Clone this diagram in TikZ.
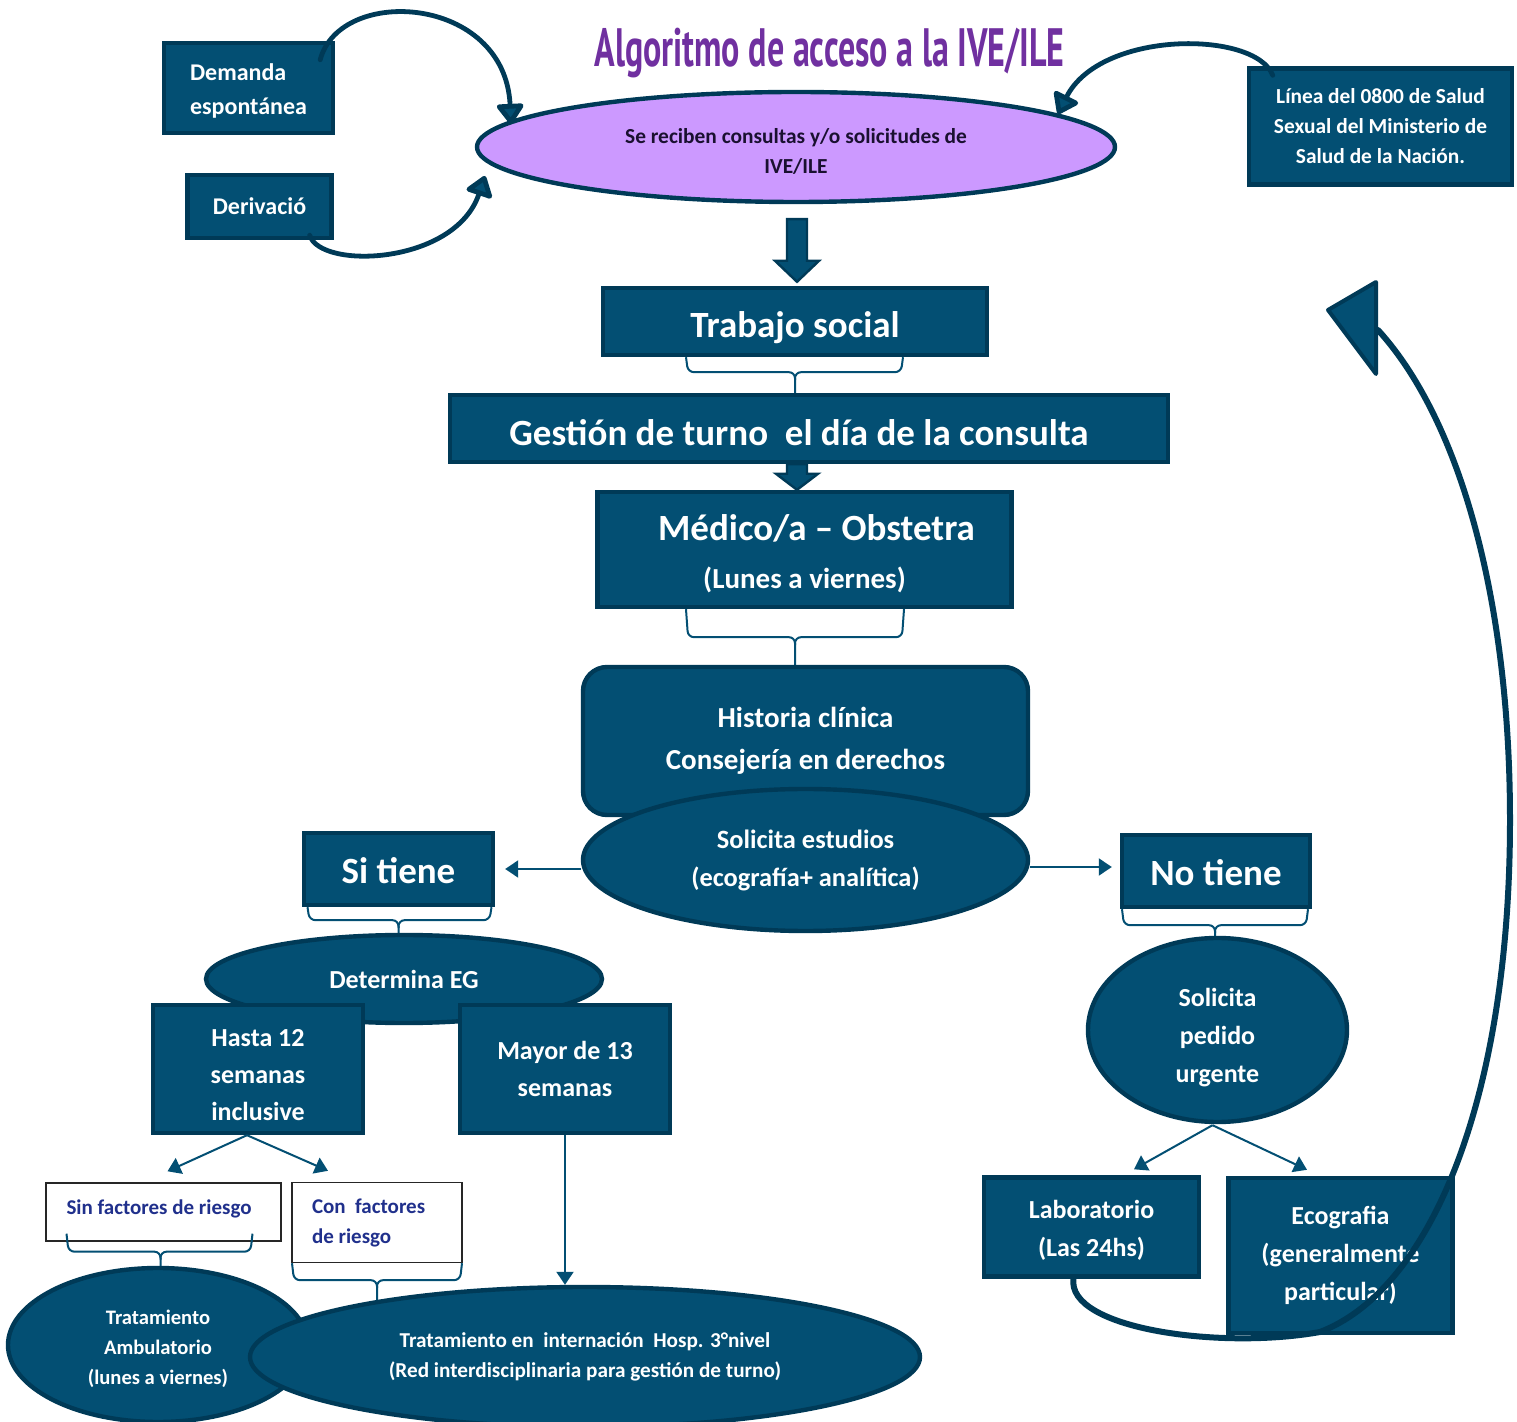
\documentclass[tikz,border=0pt]{standalone}
\usepackage{fontspec}
\usepackage{graphicx}
\setmainfont{Carlito}
\newfontfamily\titlefont[FakeStretch=0.63]{PT Sans}
\usetikzlibrary{shapes.geometric,arrows.meta,calc}
\definecolor{bblue}{RGB}{3,79,115}
\definecolor{bdark}{RGB}{0,58,87}
\definecolor{lilac}{HTML}{CC99FF}
\definecolor{ink}{RGB}{26,16,48}
\definecolor{ttlpurple}{HTML}{7030A0}
\definecolor{navytxt}{RGB}{32,48,140}
\pgfdeclarelayer{background}
\pgfsetlayers{background,main}
\newcommand\fs[2]{\fontsize{#1pt}{#2pt}\selectfont\bfseries}
\newcommand\lowr[2]{\raisebox{#1}[\height][\depth]{#2}}
% brace connector: #1 top node, #2 stem dx, #3 left dx, #4 right dx, #5 depth, #6 bottom node
\newcommand\bracelink[6]{%
  \coordinate (stm) at ($(#1.south)+(#2,0)$);
  \draw[brc] ($(stm)+(#3,0)$) -- ($(stm)+(#3+2,#5)$) -- ($(stm)+(0,#5)$) -- (stm |- #6.center);
  \draw[brc] ($(stm)+(#4,0)$) -- ($(stm)+(#4-2,#5)$) -- ($(stm)+(0,#5)$) -- ($(stm)+(0,#5+8)$);}
\begin{document}
\begin{tikzpicture}[x=0.5pt,y=-0.5pt,
  box/.style={rectangle,draw=bdark,fill=bblue,line width=2.2pt,text=white,align=center,inner sep=0pt},
  oval/.style={ellipse,draw=bdark,fill=bblue,line width=2.2pt,text=white,align=center,inner sep=0pt},
  wbox/.style={rectangle,draw=black!85,fill=white,line width=0.7pt,text=navytxt,align=flush left,inner sep=0pt},
  tx/.style={text=white,align=center,inner sep=0pt},
  brc/.style={draw=bblue,line width=1pt,rounded corners=3pt},
  arr/.style={draw=bblue,line width=1pt,-{Triangle[length=6.5pt,width=8.5pt]}},
  curv/.style={draw=bdark,line width=2.4pt,line cap=round,-{Triangle[length=11pt,width=15pt,fill=bblue,round]}},
  bigc/.style={draw=bdark,line width=3pt,line cap=round},
  blk/.style={draw=bdark,fill=bblue,line width=1.2pt,line join=miter},
]
\useasboundingbox (0,0) rectangle (1517,1422);

% title
\node[text=ttlpurple,font={\titlefont\bfseries\fontsize{27pt}{30pt}\selectfont},inner sep=0pt,anchor=base] (ttl) at (829.5,67) {Algoritmo de acceso a la IVE/ILE};

% top entry nodes
\node[box,minimum width=84.5pt,minimum height=45pt,
  label={[tx,align=left,font=\fs{12}{17},yshift=-1.5pt]center:Demanda\\espontánea}] (dem) at (248.5,88) {};
\node[box,font=\fs{12}{17},minimum width=72pt,minimum height=31.5pt] (der) at (259.5,206.5) {Derivació};
\node[ellipse,draw=bdark,fill=lilac,line width=2.2pt,inner sep=0pt,minimum width=319pt,minimum height=55pt,
  label={[tx,text=ink,font=\fs{10.7}{15},yshift=-2pt]center:Se reciben consultas y/o solicitudes de\\IVE/ILE}] (rec) at (796,147) {};
\node[box,font=\fs{10.7}{15},minimum width=131.5pt,minimum height=58pt] (lin) at (1380.5,126.5) {Línea del 0800 de Salud\\Sexual del Ministerio de\\Salud de la Nación.};

% main column
\node[box,font=\fs{18.5}{22},minimum width=192pt,minimum height=33.5pt] (ts) at (795,321.5) {\lowr{-3pt}{Trabajo social}};
\node[box,font=\fs{18.5}{22},minimum width=359pt,minimum height=33.5pt] (gest) at (809,428.5) {\lowr{-2pt}{Gestión de turno~ el día de la consulta}\rule{10pt}{0pt}};
\node[box,minimum width=207pt,minimum height=57.5pt,
  label={[tx,font=\fs{14.5}{24},yshift=-2pt]center:{\fs{18.5}{24}\rule{12pt}{0pt}Médico/a – Obstetra}\\(Lunes a viernes)}] (med) at (804.5,549.5) {};
\node[box,rounded corners=12pt,font=\fs{14.5}{21},minimum width=222.5pt,minimum height=74pt] (hist) at (805.5,741) {Historia clínica\\Consejería en derechos};
\node[oval,font=\fs{13.2}{19},minimum width=222.5pt,minimum height=71pt] (sol) at (805.5,860) {Solicita estudios\\(ecografía+ analítica)};

% left branch
\node[box,font=\fs{18.5}{22},minimum width=94.5pt,minimum height=36pt] (si) at (398.5,869) {\lowr{-1pt}{Si tiene}};
\node[oval,font=\fs{13}{18},minimum width=198pt,minimum height=44pt] (deg) at (404,979) {Determina EG};
\node[box,minimum width=105pt,minimum height=64pt,
  label={[tx,font=\fs{13}{18.5},yshift=-3pt]center:Hasta 12\\semanas\\inclusive}] (h12) at (258,1069) {};
\node[box,font=\fs{13}{18.5},minimum width=105pt,minimum height=64pt] (may) at (565,1069) {Mayor de 13\\semanas};
\node[wbox,font=\fs{10.5}{15},minimum width=117.5pt,minimum height=29pt,text width=97pt] (sinf) at (163.5,1212) {\lowr{1.5pt}{Sin factores de riesgo}};
\node[wbox,font=\fs{10.5}{15},minimum width=85pt,minimum height=40pt,text width=65pt] (conf) at (377,1222.5) {Con~ factores\\de riesgo};
\node[oval,minimum width=150pt,minimum height=77pt,
  label={[tx,font=\fs{10.3}{15},yshift=-2pt]center:Tratamiento\\Ambulatorio\\(lunes a viernes)}] (amb) at (158,1345) {};
\node[oval,font=\fs{10.6}{15},minimum width=335pt,minimum height=70pt] (int) at (585,1357) {Tratamiento en~ internación~ Hosp. 3°nivel\\(Red interdisciplinaria para gestión de turno)};

% right branch
\node[box,font=\fs{18.5}{22},minimum width=94pt,minimum height=36pt] (no) at (1216,871) {\lowr{-1pt}{No tiene}};
\node[oval,minimum width=129.5pt,minimum height=92pt,
  label={[tx,font=\fs{13}{19},yshift=-4pt]center:Solicita\\pedido\\urgente}] (urg) at (1217.5,1030) {};
\node[box,minimum width=107.5pt,minimum height=49.5pt,
  label={[tx,font=\fs{13}{19},yshift=-1.5pt]center:Laboratorio\\(Las 24hs)}] (lab) at (1091.5,1227) {};
\node[box,font=\fs{13}{19},minimum width=112pt,minimum height=77.5pt] (eco) at (1340.5,1255.5) {Ecografia\\(generalmente\\particular)};

% brace connectors
\begin{pgfonlayer}{background}
  \bracelink{ts}{0}{-109}{108}{15}{gest}
  \bracelink{med}{-9.5}{-109}{109}{28}{hist}
  \bracelink{si}{0}{-91}{93}{13}{deg}
  \bracelink{no}{-1}{-93}{93}{16}{urg}
  \bracelink{conf}{0}{-85}{85}{17}{int}
\end{pgfonlayer}
\coordinate (stm) at ($(sinf.south)+(-3,0)$);
\draw[brc] ($(stm)+(-94,-8)$) -- ($(stm)+(-92,10)$) -- ($(stm)+(0,10)$) -- (stm |- amb.north);
\draw[brc] ($(stm)+(92,-8)$) -- ($(stm)+(90,10)$) -- ($(stm)+(0,10)$) -- ($(stm)+(0,18)$);

% block arrows
\coordinate (b1t) at ($(rec.south)+(1,15)$);
\coordinate (b1b) at ($(ts.north)+(2,-4)$);
\filldraw[blk] ($(b1t)+(-10,0)$) -- ($(b1t)+(10,0)$) -- ($(b1b)+(10,-21)$) -- ($(b1b)+(22,-21)$) -- (b1b) -- ($(b1b)+(-22,-21)$) -- ($(b1b)+(-10,-21)$) -- cycle;
\coordinate (b2t) at ($(gest.south)+(-12,0)$);
\coordinate (b2b) at ($(med.north)+(-7.5,0)$);
\filldraw[blk] ($(b2t)+(-10,0)$) -- ($(b2t)+(10,0)$) -- ($(b2b)+(10,-16)$) -- ($(b2b)+(21,-16)$) -- (b2b) -- ($(b2b)+(-21,-16)$) -- ($(b2b)+(-10,-16)$) -- cycle;

% thin arrows
\draw[arr] (sol.west |- si.east) -- ($(si.east)+(10,0)$);
\draw[arr] ($(sol.east)+(0,7)$) -- ($(no.west |- sol.east)+(-8,7)$);
\draw[arr] ($(h12.south)+(-11,0)$) -- ($(sinf.north)+(4,-11)$);
\draw[arr] ($(h12.south)+(-11,0)$) -- ($(conf.north)+(-49,-11)$);
\draw[arr] (may.south) -- (may.south |- int.north);
\draw[arr] ($(urg.south)+(-5,1)$) -- ($(lab.north)+(42.5,-6)$);
\draw[arr] ($(urg.south)+(-5,1)$) -- ($(eco.north)+(-33.5,-6)$);

% curved entry arrows
\draw[curv] ($(dem.north east)+(-15,19)$) .. controls (340,-15) and (505,-5) .. ($(rec.center)+(-285,-23)$);
\draw[curv] ($(der.south east)+(-24,-5)$) .. controls (320,270) and (455,265) .. ($(rec.center)+(-311,29)$);
\draw[curv] ($(lin.north west)+(26,9)$) .. controls (1255,30) and (1100,30) .. ($(rec.center)+(262,-33)$);

% big return arrow
\coordinate (tipc) at (1378,330);
\draw[bigc] ($(lab.south)+(-18,0)$) .. controls ($(lab.south)+(-25,50)$) and (1220,1350) .. (1320,1332)
  .. controls (1430,1290) and (1510,1100) .. (1510,820)
  .. controls (1510,600) and (1460,420) .. (tipc);
\filldraw[blk,line width=2pt,line join=round] ($(tipc)+(-2,-48)$) -- ($(tipc)+(-50,-20)$) -- ($(tipc)+(-2,44)$) -- cycle;
\end{tikzpicture}
\end{document}
